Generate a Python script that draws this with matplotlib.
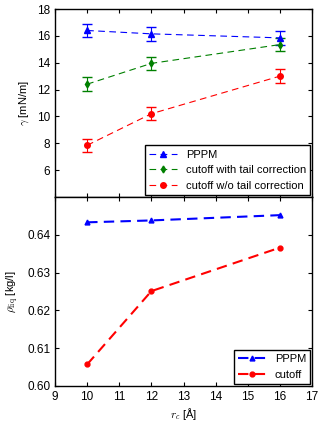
import matplotlib
matplotlib.use("Agg")
import matplotlib.pyplot as plt
from matplotlib.lines import Line2D

plt.rcParams['font.family'] = ['Liberation Sans', 'DejaVu Sans']
plt.rcParams['mathtext.fontset'] = 'cm'

rc = [10, 12, 16]
gamma_pppm = [16.4, 16.15, 15.85]
gamma_pppm_err = [0.5, 0.5, 0.5]
gamma_tail = [12.4, 13.95, 15.35]
gamma_tail_err = [0.5, 0.5, 0.5]
gamma_notail = [7.85, 10.2, 13.0]
gamma_notail_err = [0.5, 0.5, 0.5]

rho_pppm = [0.6433, 0.6438, 0.6452]
rho_cutoff = [0.6057, 0.6251, 0.6366]

fig = plt.figure(figsize=(3.25, 4.25), dpi=100)
ax1 = fig.add_axes([55/325, 1-197/425, 257/325, 188/425])
ax2 = fig.add_axes([55/325, 1-386/425, 257/325, 189/425], sharex=ax1)

series = [
    (gamma_pppm, gamma_pppm_err, 'blue', '^', 4, 'PPPM'),
    (gamma_tail, gamma_tail_err, 'green', 'd', 3.5, 'cutoff with tail correction'),
    (gamma_notail, gamma_notail_err, 'red', 'o', 4, 'cutoff w/o tail correction'),
]
handles = []
for y, e, c, m, ms, lab in series:
    ax1.errorbar(rc, y, yerr=e, color=c, ls='--', lw=0.8, marker=m, ms=ms,
                 capsize=3.5, dashes=(6, 4))
    handles.append(Line2D([], [], color=c, ls='--', lw=0.8, marker=m, ms=ms,
                          dashes=(6, 4), label=lab))
ax1.set_ylim(4, 18)
ax1.set_yticks([6, 8, 10, 12, 14, 16, 18])
ax1.set_ylabel(r'$\gamma$ [mN/m]', fontsize=8)
leg1 = ax1.legend(handles=handles, loc='lower right', fontsize=8, fancybox=False,
                  edgecolor='black', framealpha=1, borderaxespad=0.15,
                  handlelength=2.5, labelspacing=0.5)
leg1.get_frame().set_linewidth(1.0)
plt.setp(ax1.get_xticklabels(), visible=False)

ax2.plot(rc, rho_pppm, color='blue', ls='--', lw=1.5, marker='^', ms=3.5, label='PPPM', dashes=(5, 3))
ax2.plot(rc, rho_cutoff, color='red', ls='--', lw=1.5, marker='o', ms=3.5, label='cutoff', dashes=(5, 3))
ax2.set_ylim(0.60, 0.65)
ax2.set_yticks([0.60, 0.61, 0.62, 0.63, 0.64])
ax2.set_yticklabels(['0.60', '0.61', '0.62', '0.63', '0.64'])
ax2.set_xlim(9, 17)
ax2.set_xticks(range(9, 18))
ax2.set_ylabel(r'$\rho_{\rm liq}$ [kg/l]', fontsize=8)
ax2.set_xlabel(r'$r_c$ [Å]', fontsize=8, labelpad=2)
leg2 = ax2.legend(loc='lower right', fontsize=8, fancybox=False, edgecolor='black',
                  framealpha=1, borderaxespad=0.15, handlelength=2.5, labelspacing=0.5)
leg2.get_frame().set_linewidth(1.0)

for ax in (ax1, ax2):
    ax.tick_params(direction='in', top=True, right=True, labelsize=8.5, length=3)
    for s in ax.spines.values():
        s.set_linewidth(1.0)

fig.savefig('out.png', dpi=100)
